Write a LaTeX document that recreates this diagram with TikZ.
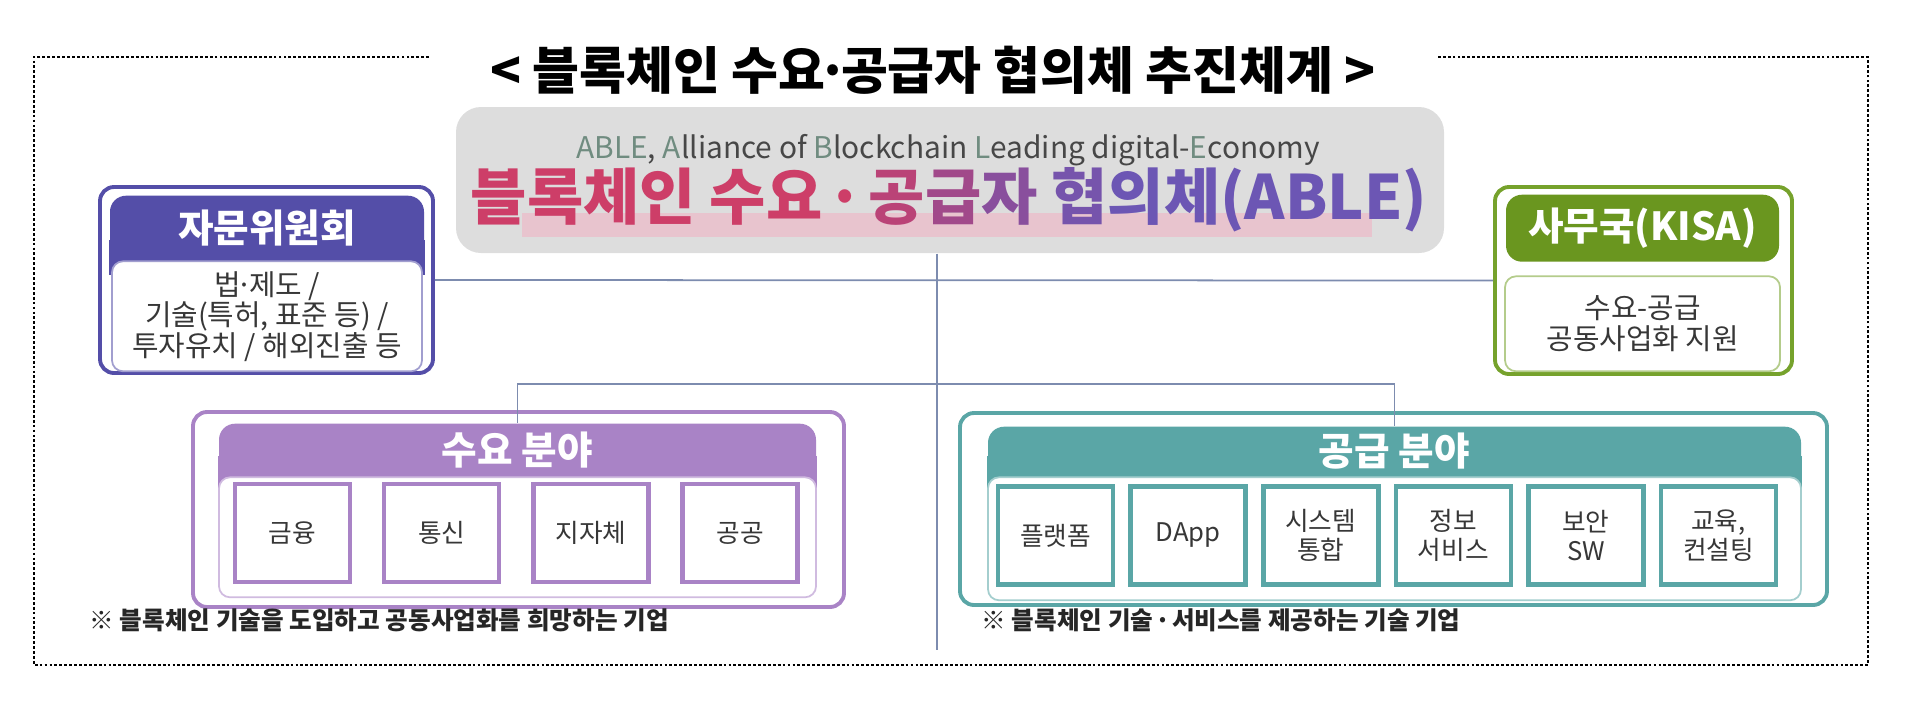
\documentclass[tikz,border=0pt]{standalone}
\usepackage{fontspec}
\setmainfont{Noto Sans CJK KR}
\usepackage{xcolor}
\usepackage{tikz}
\usetikzlibrary{positioning, calc}
\definecolor{advindigo}{RGB}{84,78,168}
\definecolor{kisagreen}{RGB}{106,150,31}
\definecolor{kisaline}{RGB}{118,162,44}
\definecolor{dempurple}{RGB}{169,131,198}
\definecolor{supteal}{RGB}{90,166,166}
\definecolor{ablegray}{RGB}{221,221,221}
\definecolor{ablepink}{RGB}{232,196,206}
\definecolor{ablered}{RGB}{205,62,104}
\definecolor{ablepurple}{RGB}{108,86,180}
\definecolor{ableinit}{RGB}{112,140,128}
\definecolor{linkblue}{RGB}{125,140,175}
\definecolor{bodytext}{RGB}{55,55,55}
\newcommand{\kdot}{\makebox[0.3em][c]{·}}

\tikzset{
    outerbox/.style={draw=#1, line width=1.1pt, fill=white, rounded corners=0.14cm},
    headbox/.style={fill=#1, rounded corners=0.16cm, inner sep=0pt},
    headtext/.style={text=white, inner sep=0pt, font=\bfseries\fontsize{11pt}{13pt}\selectfont},
    bodybox/.style={draw=#1!55, line width=0.5pt, fill=white, rounded corners=0.11cm, inner sep=0pt, align=center, text=bodytext, font=\fontsize{8.2pt}{8.7pt}\selectfont},
    fieldbox/.style={draw=#1, line width=1.3pt, fill=white, minimum width=1.15cm, minimum height=0.98cm, inner sep=0pt, align=center, text=bodytext, font=\fontsize{7.3pt}{8.3pt}\selectfont},
    link/.style={draw=linkblue, line width=0.5pt},
    note/.style={anchor=west, inner sep=0pt, text=black!85, font=\bfseries\fontsize{7pt}{8.5pt}\selectfont},
    frameline/.style={line width=0.8pt, dash pattern=on 0.8pt off 0.6pt}
}

\begin{document}
\begin{tikzpicture}[y=-1cm]
        \useasboundingbox (0,0) rectangle (19.2,7.01);
        % title and frame
        \node[inner sep=0pt, font=\bfseries\fontsize{14.5pt}{16pt}\selectfont] (title) at (9.33,0.70) {< 블록체인 수요\kdot 공급자 협의체 추진체계 >};
        \draw[frameline] (4.29,0.57) -- (0.34,0.57) -- (0.34,6.65) -- (18.68,6.65) -- (18.68,0.57) -- (14.38,0.57);

        % ABLE
        \node[fill=ablegray, rounded corners=0.25cm, minimum width=9.88cm, minimum height=1.46cm] (able) at (9.50,1.80) {};
        \node[fill=ablepink, minimum width=8.50cm, minimum height=0.24cm, inner sep=0pt] (ablebar) at (9.47,2.25) {};
        \node[inner sep=0pt, text=black!72, font=\fontsize{8.5pt}{10pt}\selectfont] (ableen) at (9.48,1.50)
            {\textcolor{ableinit}{ABLE}, \textcolor{ableinit}{A}lliance of \textcolor{ableinit}{B}lockchain \textcolor{ableinit}{L}eading digital-\textcolor{ableinit}{E}conomy};
        \node[inner sep=0pt, font=\bfseries\fontsize{17.4pt}{19pt}\selectfont] (ablekr) at (9.49,2.00)
            {\textcolor{ablered}{블록체인 수요 \kdot{} }\textcolor{ablepurple!20!ablered}{공}\textcolor{ablepurple!45!ablered}{급}\textcolor{ablepurple!70!ablered}{자} \textcolor{ablepurple!90!ablered}{협}\textcolor{ablepurple}{의체(ABLE)}};

        % advisory board
        \node[outerbox=advindigo, minimum width=3.33cm, minimum height=1.86cm] (advbox) at (2.665,2.80) {};
        \node[headbox=advindigo, minimum width=3.14cm, minimum height=0.64cm, anchor=north] (advhead) at (2.67,1.95) {};
        \fill[advindigo] ([yshift=0.2cm]advhead.south west) rectangle ([yshift=-0.15cm]advhead.south east);
        \node[headtext] (advtitle) at (advhead.center) {자문위원회};
        \node[bodybox=advindigo, minimum width=3.10cm, minimum height=1.10cm, anchor=north] (advbody) at (advhead.south) {법\kdot 제도 /\\기술(특허, 표준 등) /\\투자유치 / 해외진출 등};

        % secretariat
        \node[outerbox=kisaline, minimum width=2.97cm, minimum height=1.87cm] (kisabox) at (16.435,2.805) {};
        \node[headbox=kisagreen, headtext, minimum width=2.73cm, minimum height=0.67cm, anchor=north] (kisahead) at (16.425,1.94) {사무국(KISA)};
        \node[bodybox=kisaline, minimum width=2.75cm, minimum height=0.95cm, below=0.13cm of kisahead] (kisabody) {수요-공급\\공동사업화 지원};

        % demand side
        \node[outerbox=dempurple, minimum width=6.51cm, minimum height=1.95cm] (dembox) at (5.185,5.095) {};
        \node[headbox=dempurple, minimum width=5.97cm, minimum height=0.52cm, anchor=north] (demhead) at (5.175,4.23) {};
        \fill[dempurple] ([yshift=0.2cm]demhead.south west) rectangle ([yshift=-0.15cm]demhead.south east);
        \node[headtext] (demtitle) at (demhead.center) {수요 분야};
        \node[bodybox=dempurple, minimum width=5.97cm, minimum height=1.20cm, anchor=north] (dembody) at (demhead.south) {};
        \foreach \t [count=\i from 0] in {금융, 통신, 지자체, 공공}
            \node[fieldbox=dempurple] (dem\i) at (2.925+1.492*\i,5.33) {\t};
        \node[note] (demnote) at (0.89,6.20) {※ 블록체인 기술을 도입하고 공동사업화를 희망하는 기업};

        % supply side
        \node[outerbox=supteal, minimum width=8.67cm, minimum height=1.92cm] (supbox) at (13.935,5.09) {};
        \node[headbox=supteal, minimum width=8.13cm, minimum height=0.49cm, anchor=north] (suphead) at (13.945,4.26) {};
        \fill[supteal] ([yshift=0.2cm]suphead.south west) rectangle ([yshift=-0.15cm]suphead.south east);
        \node[headtext] (suptitle) at (suphead.center) {공급 분야};
        \node[bodybox=supteal, minimum width=8.13cm, minimum height=1.23cm, anchor=north] (supbody) at (suphead.south) {};
        \foreach \t [count=\i from 0] in {플랫폼, DApp, 시스템\\통합, 정보\\서비스, 보안\\SW, {교육,\\컨설팅}}
            \node[fieldbox=supteal] (sup\i) at (10.555+1.326*\i,5.355) {\t};
        \node[note] (supnote) at (9.81,6.20) {※ 블록체인 기술 \kdot{} 서비스를 제공하는 기술 기업};

        % connectors
        \coordinate (spine) at (9.37,6.50);
        \coordinate (bus) at (9.37,3.84);
        \draw[link] (able.south -| spine) -- (spine);
        \draw[link] (advbox.east) -- (kisabox.west);
        \draw[link] (demhead.north) |- (bus) -| (suphead.north);
    \end{tikzpicture}
\end{document}
